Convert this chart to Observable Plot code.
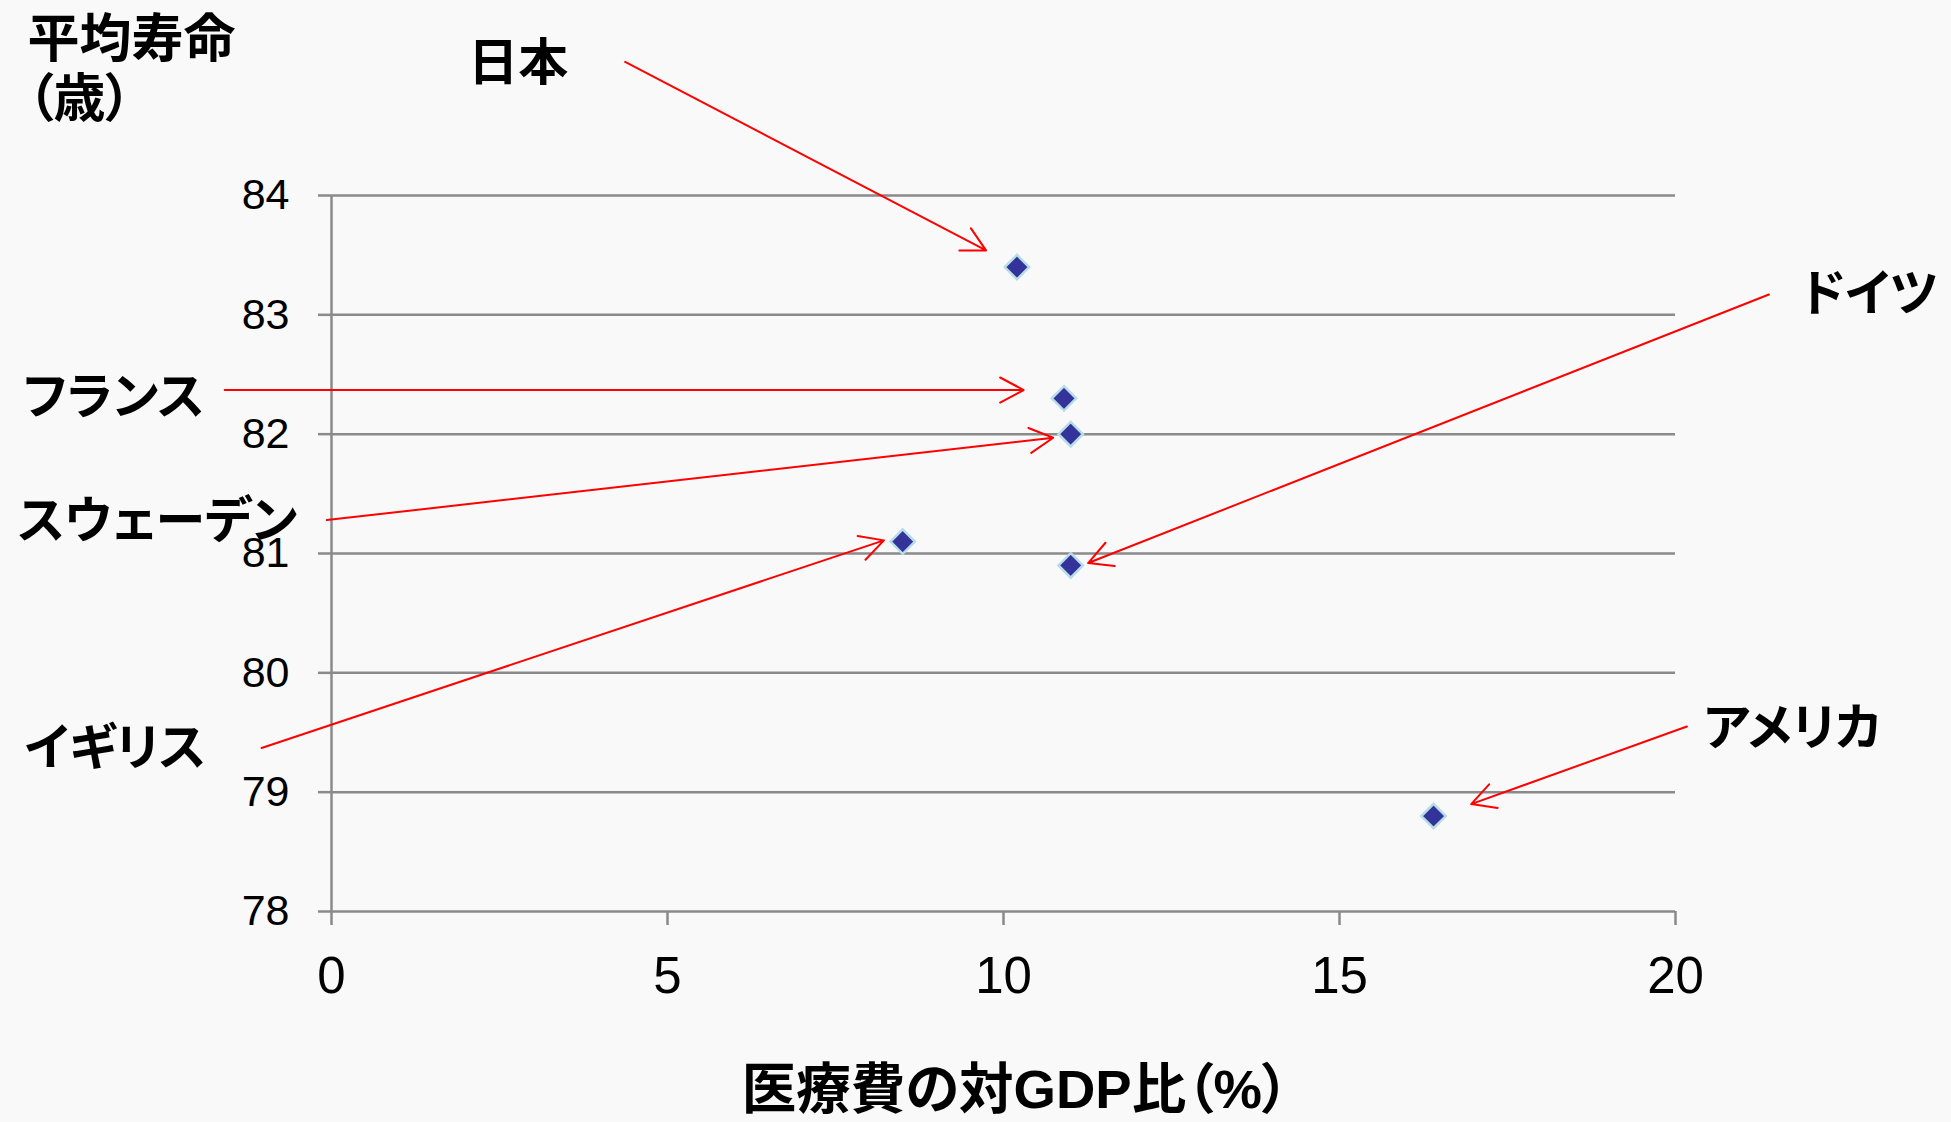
<!DOCTYPE html>
<html>
<head>
<meta charset="utf-8">
<script src="https://cdn.jsdelivr.net/npm/d3@7"></script>
<script src="https://cdn.jsdelivr.net/npm/@observablehq/plot@0.6"></script>
<style>
  html, body { margin: 0; padding: 0; background: #f9f9f9; }
  #chart svg { display: block; }
  #chart svg text { font-feature-settings: "palt"; }
</style>
</head>
<body>
<div id="chart"></div>
<script>
// Health spending (% of GDP) vs. life expectancy, by country
const countries      = ["日本", "フランス", "スウェーデン", "イギリス", "ドイツ", "アメリカ"];
const healthSpendPct = [10.2, 10.9, 11.0, 8.5, 11.0, 16.4];
const lifeExpectancy = [83.4, 82.3, 82.0, 81.1, 80.9, 78.8];

const xTicks = [0, 5, 10, 15, 20];
const yTicks = [78, 79, 80, 81, 82, 83, 84];

// Call-out names and their arrows, in data units (outside the frame where needed)
const labelX     = [2.78, -3.24, -2.59, -3.22, 22.89, 21.74];
const labelY     = [85.10, 82.30, 81.26, 79.36, 83.17, 79.53];
const arrowFromX = [4.37, -1.59, -0.07, -1.04, 21.39, 20.17];
const arrowFromY = [85.12, 82.37, 81.28, 79.37, 83.17, 79.55];
const arrowToX   = [9.74, 10.30, 10.74, 8.22, 11.26, 16.96];
const arrowToY   = [83.54, 82.37, 81.97, 81.11, 80.92, 78.90];

const yTitle = "平均寿命\n（歳）";
const xTitle = "医療費の対GDP比（%）";

const points = countries.map((c, i) => ({country: c, x: healthSpendPct[i], y: lifeExpectancy[i]}));
const callouts = countries.map((c, i) => ({
  name: c,
  lx: labelX[i], ly: labelY[i],
  x1: arrowFromX[i], y1: arrowFromY[i],
  x2: arrowToX[i], y2: arrowToY[i]
}));

const JP = "'Noto Sans CJK JP', 'Noto Sans', sans-serif";
const MIXED = "'Liberation Sans', 'Noto Sans CJK JP', sans-serif";
const LATIN = "'Liberation Sans', Arial, sans-serif";
const GRID = "#8a8a8a";

const chart = Plot.plot({
  width: 1951,
  height: 1122,
  marginLeft: 331,
  marginRight: 276,
  marginTop: 195,
  marginBottom: 211,
  style: {background: "transparent", color: "#000", overflow: "visible"},
  x: {domain: [0, 20]},
  y: {domain: [78, 84]},
  marks: [
    Plot.ruleY(yTicks, {stroke: GRID, strokeWidth: 2.5}),
    Plot.ruleX([0], {stroke: GRID, strokeWidth: 2.5}),
    Plot.axisX(xTicks, {
      label: null, tickSize: 14, tickPadding: 31, fontSize: 51, tickFormat: "d",
      fontFamily: LATIN, stroke: GRID, strokeWidth: 2.5, fill: "#000"
    }),
    Plot.axisY(yTicks, {
      label: null, tickSize: 13, tickPadding: 29, fontSize: 43, tickFormat: "d",
      fontFamily: LATIN, stroke: GRID, strokeWidth: 2.5, fill: "#000"
    }),
    Plot.arrow(callouts, {
      x1: "x1", y1: "y1", x2: "x2", y2: "y2",
      stroke: "#ff0000", strokeWidth: 2, headLength: 20, headAngle: 56
    }),
    Plot.dot(points, {
      x: "x", y: "y", symbol: "diamond2", r: 11,
      fill: "#333399", stroke: "#b7dde8", strokeWidth: 2.5
    }),
    Plot.text(callouts, {
      x: "lx", y: "ly", text: "name",
      fontSize: 50, fontWeight: "bold", fontFamily: JP, fill: "#000"
    }),
    Plot.text([yTitle], {
      text: d => d, frameAnchor: "top-left", dx: -304, dy: -128,
      textAnchor: "start", lineAnchor: "middle", lineHeight: 1.15,
      fontSize: 52, fontWeight: "bold", fontFamily: JP, fill: "#000"
    }),
    Plot.text([xTitle], {
      text: d => d, frameAnchor: "bottom", dx: 12, dy: 196,
      fontSize: 54.5, fontWeight: "bold", fontFamily: MIXED, fill: "#000"
    })
  ]
});

document.getElementById("chart").appendChild(chart);
</script>
</body>
</html>
